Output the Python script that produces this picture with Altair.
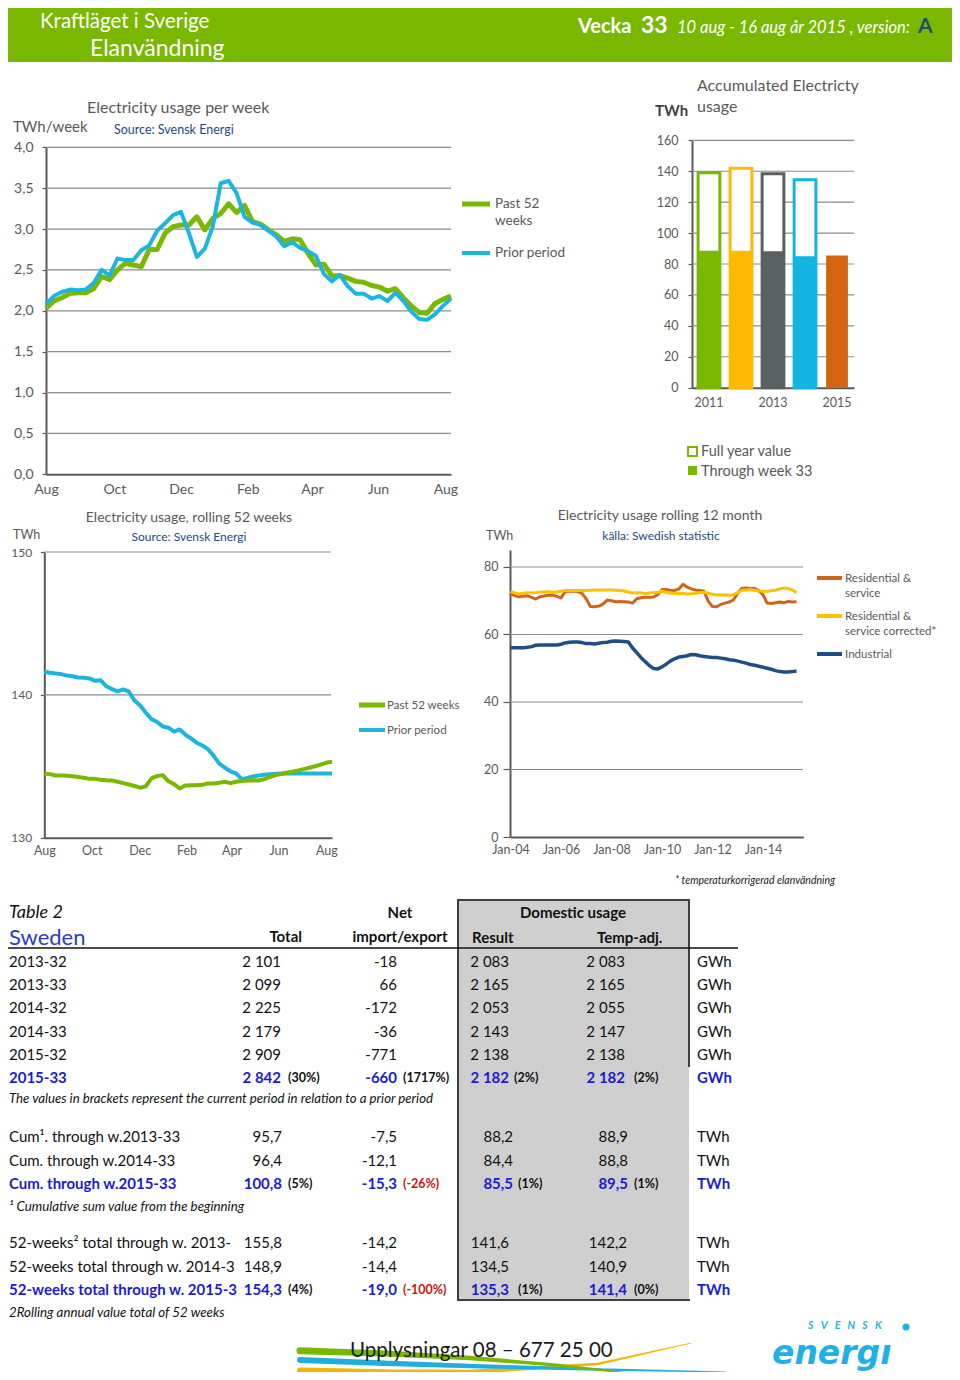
import altair as alt
import pandas as pd

# ---------------------------------------------------------------- data
week_idx = list(range(52))
weekly_past = [2.03, 2.12, 2.16, 2.21, 2.22, 2.22, 2.27, 2.42, 2.38, 2.50,
               2.58, 2.56, 2.54, 2.75, 2.75, 2.95, 3.03, 3.05, 3.05, 3.15,
               2.99, 3.13, 3.19, 3.31, 3.20, 3.29, 3.09, 3.06, 2.99, 2.93,
               2.85, 2.88, 2.87, 2.70, 2.56, 2.57, 2.43, 2.43, 2.40, 2.36,
               2.35, 2.31, 2.29, 2.24, 2.27, 2.16, 2.06, 1.98, 1.97, 2.09,
               2.14, 2.18]
weekly_prior = [2.08, 2.18, 2.23, 2.26, 2.25, 2.26, 2.34, 2.50, 2.43, 2.64,
                2.62, 2.62, 2.74, 2.80, 2.98, 3.07, 3.17, 3.21, 2.95, 2.66,
                2.76, 3.03, 3.56, 3.59, 3.44, 3.15, 3.08, 3.05, 2.98, 2.91,
                2.79, 2.84, 2.77, 2.73, 2.67, 2.45, 2.36, 2.44, 2.30, 2.21,
                2.21, 2.15, 2.18, 2.12, 2.22, 2.12, 1.99, 1.90, 1.89, 1.96,
                2.06, 2.15]
week_ticks_1 = [0, 8.6, 17, 25.4, 33.5, 41.8, 50.3]
week_ticks_3 = [0, 8.4, 16.9, 25.2, 33.2, 41.5, 50]
month_labels = ["Aug", "Oct", "Dec", "Feb", "Apr", "Jun", "Aug"]
weekly_y_ticks = [0, 0.5, 1, 1.5, 2, 2.5, 3, 3.5, 4]

acc_years = ["2011", "2012", "2013", "2014", "2015"]
acc_full = [139.0, 142.0, 138.3, 134.5]          # 2011-2014 full year
acc_week33 = [88.5, 88.6, 88.2, 85.0, 85.5]
acc_colors = ["#7ab800", "#ffb900", "#5b6063", "#12b5e2", "#d4640f"]
acc_y_ticks = [0, 20, 40, 60, 80, 100, 120, 140, 160]

rolling_past = [134.50, 134.45, 134.35, 134.35, 134.33, 134.30, 134.25, 134.20, 134.12, 134.12,
                134.05, 134.02, 134.00, 133.92, 133.82, 133.72, 133.62, 133.50, 133.60, 134.15,
                134.32, 134.38, 133.95, 133.75, 133.45, 133.65, 133.68, 133.68, 133.70, 133.80,
                133.80, 133.85, 133.92, 133.82, 133.92, 133.97, 134.00, 134.02, 134.00, 134.10,
                134.25, 134.38, 134.45, 134.55, 134.62, 134.70, 134.80, 134.90, 135.00, 135.12,
                135.25, 135.32]
rolling_prior = [141.62, 141.55, 141.50, 141.45, 141.35, 141.30, 141.22, 141.20, 141.15, 140.98,
                 141.02, 140.60, 140.40, 140.25, 140.38, 140.22, 139.60, 139.25, 138.75, 138.30,
                 138.10, 137.78, 137.70, 137.42, 137.58, 137.22, 136.95, 136.65, 136.45, 136.20,
                 135.75, 135.20, 134.90, 134.65, 134.50, 134.10, 134.18, 134.28, 134.35, 134.40,
                 134.45, 134.48, 134.50, 134.50, 134.50, 134.50, 134.50, 134.50, 134.50, 134.50,
                 134.50, 134.50]
rolling_y_ticks = [130, 140, 150]

m12_dates = [d.strftime("%Y-%m-%d") for d in pd.date_range("2004-01-01", periods=69, freq="2MS")]
m12_industrial = [56.1, 56.1, 56.1, 56.1, 56.2, 56.4, 56.8, 56.9, 56.9, 56.9,
                  56.9, 56.9, 57.1, 57.5, 57.7, 57.8, 57.8, 57.6, 57.3, 57.3,
                  57.2, 57.4, 57.6, 57.7, 58.0, 58.1, 58.0, 57.9, 57.8, 56.0,
                  54.6, 53.2, 52.0, 50.8, 49.9, 49.8, 50.4, 51.2, 52.1, 52.8,
                  53.3, 53.5, 53.7, 54.1, 54.0, 53.7, 53.5, 53.3, 53.2, 53.2,
                  53.0, 52.8, 52.5, 52.4, 52.1, 51.8, 51.5, 51.1, 50.9, 50.6,
                  50.3, 50.0, 49.7, 49.3, 49.0, 48.9, 48.9, 49.0, 49.2]
m12_residential = [72.2, 71.5, 71.2, 71.3, 71.5, 71.0, 70.5, 71.2, 71.4, 71.6,
                   71.7, 71.3, 70.8, 72.7, 72.8, 72.8, 72.7, 72.2, 70.5, 68.3,
                   68.2, 68.4, 69.0, 70.2, 70.0, 69.7, 69.8, 69.7, 69.6, 69.3,
                   70.6, 70.9, 71.0, 71.0, 71.1, 71.8, 73.3, 73.3, 73.1, 73.0,
                   73.5, 74.9, 74.0, 73.5, 73.2, 73.0, 72.8, 69.8, 68.3, 68.2,
                   68.9, 69.3, 69.6, 70.3, 72.3, 73.7, 73.8, 73.6, 73.7, 73.0,
                   71.8, 69.3, 69.2, 69.4, 69.6, 69.4, 69.8, 69.6, 69.7]
m12_corrected = [72.8, 72.3, 72.0, 72.2, 72.4, 72.3, 72.4, 72.5, 72.6, 72.7,
                 72.5, 72.6, 72.8, 73.0, 73.0, 73.0, 73.1, 73.0, 73.0, 73.1,
                 73.2, 73.2, 73.1, 73.2, 73.2, 73.1, 73.0, 72.9, 72.6, 72.3,
                 72.4, 72.4, 72.1, 72.3, 72.4, 72.5, 72.8, 72.5, 72.2, 72.2,
                 72.1, 72.2, 71.9, 72.1, 72.2, 72.4, 72.5, 72.2, 71.9, 71.7,
                 71.7, 71.8, 71.6, 71.8, 72.4, 73.1, 73.2, 73.3, 73.1, 72.9,
                 72.8, 72.7, 73.0, 73.1, 73.5, 73.8, 73.6, 73.2, 72.4]
m12_y_ticks = [0, 20, 40, 60, 80]
m12_label_years = [2004, 2006, 2008, 2010, 2012, 2014]

# table 2
wk_rows = ["2013-32", "2013-33", "2014-32", "2014-33", "2015-32", "2015-33"]
wk_total = ["2 101", "2 099", "2 225", "2 179", "2 909", "2 842"]
wk_net = ["-18", "66", "-172", "-36", "-771", "-660"]
wk_result = ["2 083", "2 165", "2 053", "2 143", "2 138", "2 182"]
wk_temp = ["2 083", "2 165", "2 055", "2 147", "2 138", "2 182"]
wk_pct = ["(30%)", "(1717%)", "(2%)", "(2%)"]

cum_rows = ["Cum¹. through w.2013-33", "Cum. through w.2014-33", "Cum. through w.2015-33"]
cum_total = ["95,7", "96,4", "100,8"]
cum_net = ["-7,5", "-12,1", "-15,3"]
cum_result = ["88,2", "84,4", "85,5"]
cum_temp = ["88,9", "88,8", "89,5"]
cum_pct = ["(5%)", "(-26%)", "(1%)", "(1%)"]

r52_rows = ["52-weeks² total through w. 2013-33", "52-weeks total through w. 2014-33",
            "52-weeks total through w. 2015-33"]
r52_total = ["155,8", "148,9", "154,3"]
r52_net = ["-14,2", "-14,4", "-19,0"]
r52_result = ["141,6", "134,5", "135,3"]
r52_temp = ["142,2", "140,9", "141,4"]
r52_pct = ["(4%)", "(-100%)", "(1%)", "(0%)"]

# decorative footer swooshes (unit space 0-100 x, 0-10 y)
sw_green = {"x": [0, 20, 40, 61, 87], "y": [7.3, 6.6, 5.5, 3.7, 0.5], "w": [7, 6, 4.5, 3, 1]}
sw_blue = {"x": [0, 20, 40, 71, 100], "y": [5.0, 4.2, 3.5, 2.6, 2.0], "w": [6, 5.5, 4.5, 2.5, 0.8]}
sw_yellow = {"x": [0, 20, 40, 70, 92], "y": [2.4, 2.0, 2.0, 4.0, 9.2], "w": [6, 5.5, 4.5, 2.5, 0.8]}

# ---------------------------------------------------------------- style
FONT = "Lato"
TXT = "#595959"
DARK = "#404040"
NAVY = "#1f497d"
GRID = "#8c8c8c"
GREEN = "#7ab800"
BLUE = "#1cb5e0"
HDR = "#7ab800"
TBLUE = "#1c1ccc"
RED = "#d01010"
ORANGE = "#cf651c"
YELLOW = "#ffc000"
INDIGO = "#1f4e86"
CYAN = "#1eb0e6"
INK = "#111111"
LEFT = 9   # leftmost visible text position

W, H = 952, 1372
ONE = alt.Data(values=[{"a": 1}])


def text(s, x, y, size, color=TXT, align="left", weight="normal", style="normal", font=FONT,
         baseline="middle", **kw):
    return alt.Chart(alt.Data(values=[{"t": s}])).mark_text(
        align=align, baseline=baseline, font=font, fontSize=size, fontWeight=weight,
        fontStyle=style, color=color, **kw
    ).encode(text="t:N", x=alt.value(x), y=alt.value(y))


def rect(x1, x2, y1, y2, **kw):
    return alt.Chart(ONE).mark_rect(**kw).encode(
        x=alt.value(x1), x2=alt.value(x2), y=alt.value(y1), y2=alt.value(y2))


def hline(x1, x2, y, color, width):
    return alt.Chart(ONE).mark_rule(color=color, strokeWidth=width).encode(
        x=alt.value(x1), x2=alt.value(x2), y=alt.value(y))


def vline(x, y1, y2, color, width):
    return alt.Chart(ONE).mark_rule(color=color, strokeWidth=width).encode(
        x=alt.value(x), y=alt.value(y1), y2=alt.value(y2))


def yaxis(xpos, values, size, pad, tick=4, label_expr=None):
    kw = dict(orient="left", offset=-xpos, values=values, grid=False, title=None,
              domainColor=TXT, domainWidth=2, tickColor=TXT, tickSize=tick, tickWidth=1.2,
              labelFont=FONT, labelFontSize=size, labelColor=TXT, labelPadding=pad)
    if label_expr:
        kw["labelExpr"] = label_expr
    return alt.Axis(**kw)


def xaxis(ypos, size, pad, **extra):
    kw = dict(orient="bottom", offset=ypos - H, grid=False, title=None, ticks=False, tickSize=0,
              domainColor=TXT, domainWidth=2, labelFont=FONT, labelFontSize=size,
              labelColor=TXT, labelPadding=pad, labelOverlap=False, labelFlush=False,
              labelBound=False, labelAngle=0)
    kw.update(extra)
    return alt.Axis(**kw)


def list_expr(values, labels):
    vals = ",".join(str(v) for v in values)
    labs = ",".join("'" + l + "'" for l in labels)
    return "[" + labs + "][indexof([" + vals + "], datum.value)]"


layers = []

# ---------------------------------------------------------------- header
layers.append(rect(0, 960, 0, 62, color=HDR))
layers.append(text("Kraftläget i Sverige", 40, 22, 20.5, color="white"))
layers.append(text("Elanvändning", 90, 48.5, 23, color="white"))
layers.append(text("Vecka", 578, 27, 20, color="white", weight="bold"))
layers.append(text("33", 641, 26, 23, color="white", weight="bold"))
layers.append(text("10 aug - 16 aug år 2015 , version:", 677, 28, 16.5, color="white", style="italic"))
layers.append(text("A", 918, 27, 21, color="#1f4e79", weight="bold"))

# ---------------------------------------------------------------- chart 1: weekly usage
x1 = alt.Scale(domain=[0, 51], range=[46, 451], nice=False, zero=False)
y1 = alt.Scale(domain=[0, 4], range=[474.3, 147.3], nice=False, zero=False)
layers.append(alt.Chart(pd.DataFrame({"v": weekly_y_ticks[1:]})).mark_rule(
    color=GRID, strokeWidth=1.2).encode(
    y=alt.Y("v:Q", scale=y1, axis=None), x=alt.value(46), x2=alt.value(451)))
df1 = pd.DataFrame({"w": week_idx, "past": weekly_past, "prior": weekly_prior})
layers.append(alt.Chart(df1).mark_line(color=GREEN, strokeWidth=5, strokeJoin="round").encode(
    x=alt.X("w:Q", scale=x1, axis=xaxis(474.3, 14, 8, values=week_ticks_1,
                                         labelExpr=list_expr(week_ticks_1, month_labels))),
    y=alt.Y("past:Q", scale=y1, axis=yaxis(46, weekly_y_ticks, 14, 9,
                                           label_expr="replace(format(datum.value, '.1f'), '.', ',')"))))
layers.append(alt.Chart(df1).mark_line(color=BLUE, strokeWidth=4, strokeJoin="round").encode(
    x=alt.X("w:Q", scale=x1, axis=None), y=alt.Y("prior:Q", scale=y1, axis=None)))
layers.append(text("Electricity usage per week", 87, 108, 16))
layers.append(text("TWh/week", 13, 127, 15))
layers.append(text("Source: Svensk Energi", 114, 130, 12.5, color=NAVY))
layers.append(hline(462, 490, 204, GREEN, 5))
layers.append(text("Past 52", 495, 204, 13.5))
layers.append(text("weeks", 495, 221, 13.5))
layers.append(hline(462, 490, 253, BLUE, 4))
layers.append(text("Prior period", 495, 253, 13.5))

# ---------------------------------------------------------------- chart 2: accumulated bars
x2s = alt.Scale(domain=acc_years, range=[692, 854], paddingInner=0.32, paddingOuter=0.19)
y2s = alt.Scale(domain=[0, 160], range=[387.7, 140.3], nice=False)
col2 = alt.Scale(domain=acc_years, range=acc_colors)
layers.append(alt.Chart(pd.DataFrame({"v": acc_y_ticks[1:]})).mark_rule(
    color=GRID, strokeWidth=1.2).encode(
    y=alt.Y("v:Q", scale=y2s, axis=None), x=alt.value(692), x2=alt.value(854)))
df2f = pd.DataFrame({"year": acc_years[:4], "full": acc_full})
df2w = pd.DataFrame({"year": acc_years, "wk": acc_week33})
layers.append(alt.Chart(df2f).mark_bar(fill="white", strokeWidth=3).encode(
    x=alt.X("year:N", scale=x2s, axis=None),
    y=alt.Y("full:Q", scale=y2s, axis=None), y2=alt.datum(0),
    stroke=alt.Stroke("year:N", scale=col2, legend=None)))
layers.append(alt.Chart(df2w).mark_bar().encode(
    x=alt.X("year:N", scale=x2s, axis=xaxis(387.7, 12.5, 9,
            labelExpr="indexof(['2011','2013','2015'], datum.value) >= 0 ? datum.label : ''")),
    y=alt.Y("wk:Q", scale=y2s, axis=yaxis(692, acc_y_ticks, 12.5, 10)), y2=alt.datum(0),
    color=alt.Color("year:N", scale=col2, legend=None)))
layers.append(text("Accumulated Electricty", 697, 86, 16))
layers.append(text("usage", 697, 107, 16))
layers.append(text("TWh", 655, 111, 15, color=DARK, weight="bold"))
layers.append(rect(688, 697, 447, 456, fill="white", stroke=GREEN, strokeWidth=2))
layers.append(text("Full year value", 701, 452, 14.5))
layers.append(rect(688, 697, 466, 475, color=GREEN))
layers.append(text("Through week 33", 701, 472, 14.5))

# ---------------------------------------------------------------- chart 3: rolling 52 weeks
x3 = alt.Scale(domain=[0, 51], range=[44.3, 332], nice=False, zero=False)
y3 = alt.Scale(domain=[130, 150], range=[837.7, 552], nice=False, zero=False)
layers.append(alt.Chart(pd.DataFrame({"v": rolling_y_ticks[1:]})).mark_rule(
    color=GRID, strokeWidth=1.2).encode(
    y=alt.Y("v:Q", scale=y3, axis=None), x=alt.value(44.3), x2=alt.value(331)))
df3 = pd.DataFrame({"w": week_idx, "past": rolling_past, "prior": rolling_prior})
layers.append(alt.Chart(df3).mark_line(color=BLUE, strokeWidth=4, strokeJoin="round").encode(
    x=alt.X("w:Q", scale=x3, axis=xaxis(837.7, 12.5, 7, values=week_ticks_3,
                                         labelExpr=list_expr(week_ticks_3, month_labels))),
    y=alt.Y("prior:Q", scale=y3, axis=yaxis(44.3, rolling_y_ticks, 12, 8.6))))
layers.append(alt.Chart(df3).mark_line(color=GREEN, strokeWidth=4, strokeJoin="round").encode(
    x=alt.X("w:Q", scale=x3, axis=None), y=alt.Y("past:Q", scale=y3, axis=None)))
layers.append(text("Electricity usage, rolling 52 weeks", 189, 518, 14, align="center"))
layers.append(text("Source: Svensk Energi", 189, 537, 12, color=NAVY, align="center"))
layers.append(text("TWh", 13, 535, 12.5))
layers.append(hline(359, 385, 705, GREEN, 5))
layers.append(text("Past 52 weeks", 387, 706, 11.5))
layers.append(hline(359, 385, 730, BLUE, 4))
layers.append(text("Prior period", 387, 731, 11.5))

# ---------------------------------------------------------------- chart 4: rolling 12 month
x4 = alt.Scale(type="utc", domain=[alt.DateTime(year=2004, month=1, date=1, utc=True),
                                   alt.DateTime(year=2015, month=8, date=7, utc=True)],
               range=[510.5, 803.3], nice=False)
y4 = alt.Scale(domain=[0, 85], range=[837, 550.1], nice=False, zero=False)
layers.append(alt.Chart(pd.DataFrame({"v": m12_y_ticks[1:]})).mark_rule(
    color=GRID, strokeWidth=1.2).encode(
    y=alt.Y("v:Q", scale=y4, axis=None), x=alt.value(510), x2=alt.value(803)))
df4 = pd.DataFrame({"d": m12_dates, "res": m12_residential, "cor": m12_corrected,
                    "ind": m12_industrial})
m12_axis_vals = [alt.DateTime(year=yy, month=1, date=1, utc=True) for yy in m12_label_years]
layers.append(alt.Chart(df4).mark_line(color=ORANGE, strokeWidth=3, strokeJoin="round").encode(
    x=alt.X("d:T", scale=x4, axis=xaxis(837, 12.5, 6.5, values=m12_axis_vals, format="%b-%y")),
    y=alt.Y("res:Q", scale=y4, axis=yaxis(510, m12_y_ticks, 12.5, 5, tick=7))))
layers.append(alt.Chart(df4).mark_line(color=YELLOW, strokeWidth=3, strokeJoin="round").encode(
    x=alt.X("d:T", scale=x4, axis=None), y=alt.Y("cor:Q", scale=y4, axis=None)))
layers.append(alt.Chart(df4).mark_line(color=INDIGO, strokeWidth=3.5, strokeJoin="round").encode(
    x=alt.X("d:T", scale=x4, axis=None), y=alt.Y("ind:Q", scale=y4, axis=None)))
layers.append(text("Electricity usage rolling 12 month", 660, 516, 14, align="center"))
layers.append(text("källa: Swedish statistic", 661, 536, 12, color=NAVY, align="center"))
layers.append(text("TWh", 486, 536, 12.5))
layers.append(hline(817, 842, 578, ORANGE, 4))
layers.append(text("Residential &", 845, 579, 11.5))
layers.append(text("service", 845, 594, 11.5))
layers.append(hline(817, 842, 616, YELLOW, 4))
layers.append(text("Residential &", 845, 617, 11.5))
layers.append(text("service corrected*", 845, 632, 11.5))
layers.append(hline(817, 842, 654, INDIGO, 4))
layers.append(text("Industrial", 845, 655, 11.5))
layers.append(text("* temperaturkorrigerad elanvändning", 675, 881, 10.5, color="#222222", style="italic"))

# ---------------------------------------------------------------- table 2
layers.append(rect(458, 689, 900, 1300, color="#cfcfcf"))
layers.append(hline(457, 690, 900, DARK, 2))
layers.append(vline(458, 900, 1300, DARK, 2))
layers.append(hline(457, 690, 1300, DARK, 2))
layers.append(vline(689, 900, 1067, DARK, 2))
layers.append(hline(0, 738, 948, INK, 1.5))
layers.append(text("Table 2", LEFT, 913, 18, color=INK, style="italic"))
layers.append(text("Sweden", LEFT, 938, 22, color="#2b3cc4"))
layers.append(text("Net", 400, 913, 15, color=INK, weight="bold", align="center"))
layers.append(text("Total", 302, 937, 15, color=INK, weight="bold", align="right"))
layers.append(text("import/export", 400, 937, 15, color=INK, weight="bold", align="center"))
layers.append(text("Domestic usage", 573, 913, 15, color=INK, weight="bold", align="center"))
layers.append(text("Result", 472, 938, 15, color=INK, weight="bold"))
layers.append(text("Temp-adj.", 597, 938, 15, color=INK, weight="bold"))


def table_section(rows, y0, y1, columns, pcts, label_limit=None):
    ysc = alt.Scale(type="point", domain=rows, range=[y0, y1], padding=0)
    hi = [i == len(rows) - 1 for i in range(len(rows))]
    out = []
    for k, (vals, x, align) in enumerate(columns):
        df = pd.DataFrame({"r": rows, "t": vals, "hi": hi})
        kw = {}
        if k == 0 and label_limit:
            kw = {"limit": label_limit, "ellipsis": "\u200b"}
        out.append(alt.Chart(df).mark_text(
            align=align, baseline="middle", font=FONT, fontSize=15,
            fontWeight=alt.ExprRef(expr="datum.hi ? 'bold' : 'normal'"), **kw
        ).encode(
            y=alt.Y("r:N", scale=ysc, axis=None), x=alt.value(x), text="t:N",
            color=alt.condition("datum.hi", alt.value(TBLUE), alt.value(INK))))
    for s, x, col in pcts:
        df = pd.DataFrame({"r": [rows[-1]], "t": [s]})
        out.append(alt.Chart(df).mark_text(
            align="left", baseline="middle", font=FONT, fontSize=12.5, fontWeight="bold", color=col
        ).encode(y=alt.Y("r:N", scale=ysc, axis=None), x=alt.value(x), text="t:N"))
    return out


layers += table_section(
    wk_rows, 962, 1078,
    [(wk_rows, LEFT, "left"), (wk_total, 281, "right"), (wk_net, 397, "right"),
     (wk_result, 509, "right"), (wk_temp, 625, "right"), (["GWh"] * 6, 697, "left")],
    [(wk_pct[0], 288, INK), (wk_pct[1], 403, INK),
     (wk_pct[2], 514, INK), (wk_pct[3], 634, INK)])
layers.append(text("The values in brackets represent the current period in relation to a prior period",
                   LEFT, 1099, 13.2, color=INK, style="italic"))

layers += table_section(
    cum_rows, 1137, 1184,
    [(cum_rows, LEFT, "left"), (cum_total, 282, "right"), (cum_net, 397, "right"),
     (cum_result, 513, "right"), (cum_temp, 628, "right"), (["TWh"] * 3, 697, "left")],
    [(cum_pct[0], 288, INK), (cum_pct[1], 403, RED),
     (cum_pct[2], 518, INK), (cum_pct[3], 634, INK)])
layers.append(text("¹ Cumulative sum value from the beginning", LEFT, 1207, 13.3,
                   color=INK, style="italic"))

layers += table_section(
    r52_rows, 1243, 1290,
    [(r52_rows, LEFT, "left"), (r52_total, 282, "right"), (r52_net, 397, "right"),
     (r52_result, 509, "right"), (r52_temp, 627, "right"), (["TWh"] * 3, 697, "left")],
    [(r52_pct[0], 288, INK), (r52_pct[1], 403, RED),
     (r52_pct[2], 518, INK), (r52_pct[3], 634, INK)],
    label_limit=231)
layers.append(text("2Rolling annual value total of 52 weeks", LEFT, 1313, 13.3,
                   color=INK, style="italic"))

# ---------------------------------------------------------------- footer
sx = alt.Scale(domain=[0, 100], range=[300, 725], nice=False, zero=False)
sy = alt.Scale(domain=[0, 10], range=[1380, 1340], nice=False, zero=False)
for sw, c in [(sw_yellow, "#f5b400"), (sw_blue, "#20aee0"), (sw_green, "#7ab800")]:
    layers.append(alt.Chart(pd.DataFrame(sw)).mark_trail(color=c).encode(
        x=alt.X("x:Q", scale=sx, axis=None), y=alt.Y("y:Q", scale=sy, axis=None),
        size=alt.Size("w:Q", scale=None, legend=None)))
layers.append(text("Upplysningar 08 – 677 25 00", 350, 1351, 20.5, color="#1a1a1a"))
layers.append(text("S\u2003V\u2003E\u2003N\u2003S\u2003K", 808, 1326, 10.5,
                   color=CYAN, weight="bold", style="italic"))
layers.append(alt.Chart(ONE).mark_circle(color=CYAN, size=50, opacity=1).encode(
    x=alt.value(906), y=alt.value(1327)))
layers.append(text("energı", 772, 1364, 33, color=CYAN, weight="bold", style="italic",
                   font="DejaVu Sans", baseline="alphabetic"))

chart = alt.layer(*layers).resolve_scale(
    x="independent", y="independent", color="independent", stroke="independent",
    size="independent"
).resolve_axis(x="independent", y="independent").properties(
    width=W, height=H,
    padding={"left": -8, "top": -8, "right": 0, "bottom": 0},
    autosize=alt.AutoSizeParams(type="none"),
    background="white",
).configure_view(stroke=None)

chart.save("out.html", embed_options={"renderer": "svg", "actions": False})
